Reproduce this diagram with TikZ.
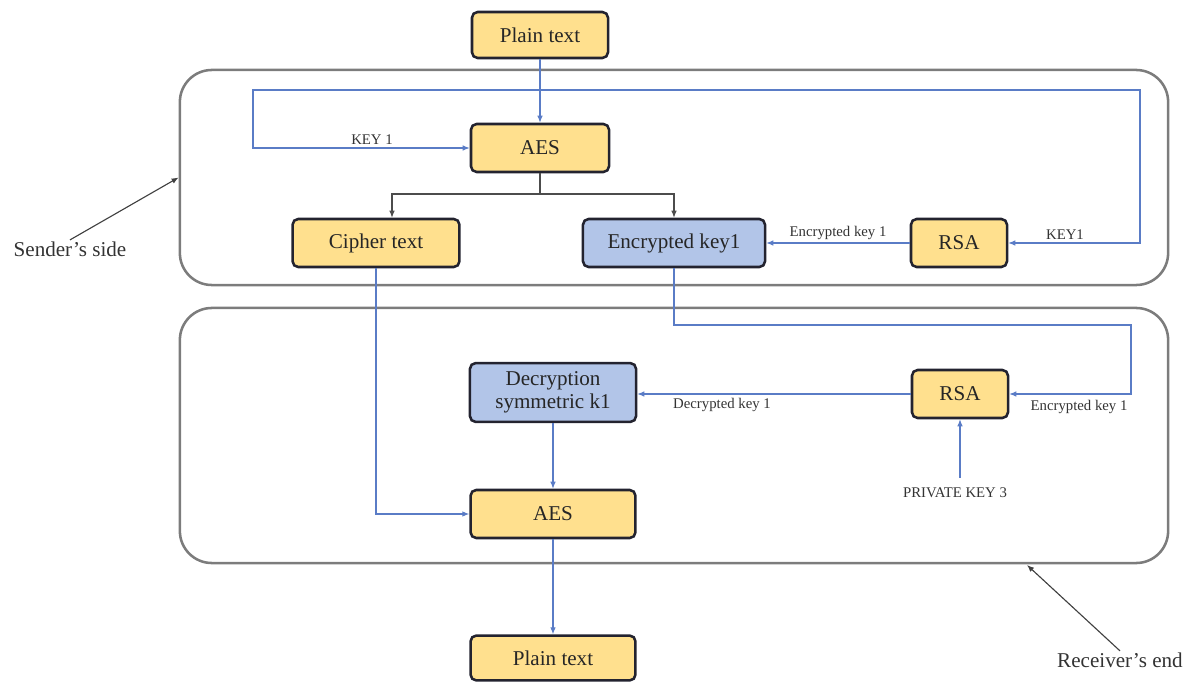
\documentclass[tikz,border=0pt]{standalone}
\usepackage{fontspec}
\setmainfont{Liberation Serif}
\usepackage{xcolor}
\usepackage{tikz}
\usetikzlibrary{arrows.meta, positioning}

\definecolor{boxyellow}{HTML}{FFE08E}
\definecolor{boxblue}{HTML}{B2C5E8}
\definecolor{edgedark}{HTML}{23232F}
\definecolor{linkblue}{HTML}{5A7CC6}
\definecolor{panelgray}{HTML}{7C7C7C}

\begin{document}
\begin{tikzpicture}[x=0.025cm, y=-0.025cm, >={Latex[length=5pt,width=4pt]},
    box/.style={rectangle, draw=edgedark, fill=boxyellow, line width=1.8pt,
                minimum width=3.45cm, minimum height=1.2cm, rounded corners=4pt,
                font=\fontsize{15}{16}\selectfont, text=black!85, align=center, inner sep=1pt},
    keybox/.style={box, fill=boxblue},
    panel/.style={rectangle, draw=panelgray, line width=1.8pt, rounded corners=0.8cm,
                  minimum width=24.7cm, inner sep=0pt},
    link/.style={->, draw=linkblue, line width=0.8pt},
    flow/.style={->, draw=black!70, line width=0.8pt},
    pointer/.style={->, draw=black!75, line width=0.8pt},
    note/.style={font=\fontsize{10.5}{11}\selectfont, text=black!80, inner sep=1pt},
    side/.style={font=\fontsize{15}{16}\selectfont, text=black!80, inner sep=1pt}]

\useasboundingbox (0,0) rectangle (1192,682);

% the two sides
\node[panel, minimum height=5.375cm] (senderpanel) at (674,177.5) {};
\node[panel, minimum height=6.375cm] (receiverpanel) at (674,435.5) {};

% sender's side
\node[box, minimum height=1.15cm, minimum width=3.4cm] (plain) at (540,35) {Plain text};
\node[box] (aes) at (540,148) {AES};
\node[box, minimum width=4.17cm] (cipher) at (376,243) {Cipher text};
\node[keybox, minimum width=4.55cm] (enckey) at (674,243) {Encrypted key1};
\node[box, minimum width=2.4cm] (rsa) at (959,243) {RSA};

% receiver's end
\node[keybox, minimum width=4.15cm, minimum height=1.47cm] (dec) at (553,392.5) {Decryption\\symmetric k1};
\node[box, minimum width=2.4cm] (rsatwo) at (960,394) {RSA};
\node[box, minimum width=4.12cm] (aestwo) at (553,514) {AES};
\node[box, minimum width=4.12cm, minimum height=1.12cm] (plaintwo) at (553,658) {Plain text};
\node[note] (priv) at (955,493) {PRIVATE KEY 3};

\node[side] (sender) at (70,249) {Sender’s side};
\node[side] (receiver) at (1120,660) {Receiver’s end};

\coordinate (keyleft) at (253,90);
\coordinate (keyright) at (1140,90);
\coordinate (split) at (540,194);
\coordinate (encturn) at (1131,325);
\coordinate (recvtip) at (1027,565);

% connectors
\draw[link] (plain) -- (aes);
\draw[link, <->] (aes.west) -| (keyleft) -- (keyright) |- (rsa.east);
\node[note] at (372,140) {KEY 1};
\node[note] at (1065,235) {KEY1};

\draw[flow] (aes.south) -- (split) -| ([xshift=0.4cm]cipher.north);
\draw[flow] (split) -| (enckey.north);

\draw[link] (rsa.west) -- (enckey.east) node[note, midway, above=1pt] {Encrypted key 1};

\draw[link] (enckey.south) |- (encturn) |- (rsatwo.east);
\node[note] at (1079,407) {Encrypted key 1};

\draw[link] (rsatwo.west) -- (rsatwo.west -| dec.east);
\node[note] at (722,405) {Decrypted key 1};
\draw[link, shorten <=6pt] (rsatwo.south |- priv.north) -- (rsatwo.south);

\draw[link] (cipher.south) |- (aestwo.west);
\draw[link] (dec) -- (aestwo);
\draw[link] (aestwo) -- (plaintwo);

\draw[pointer] (sender.north) -- (senderpanel.west);
\draw[pointer] (receiver.north) -- (recvtip);
\end{tikzpicture}
\end{document}
